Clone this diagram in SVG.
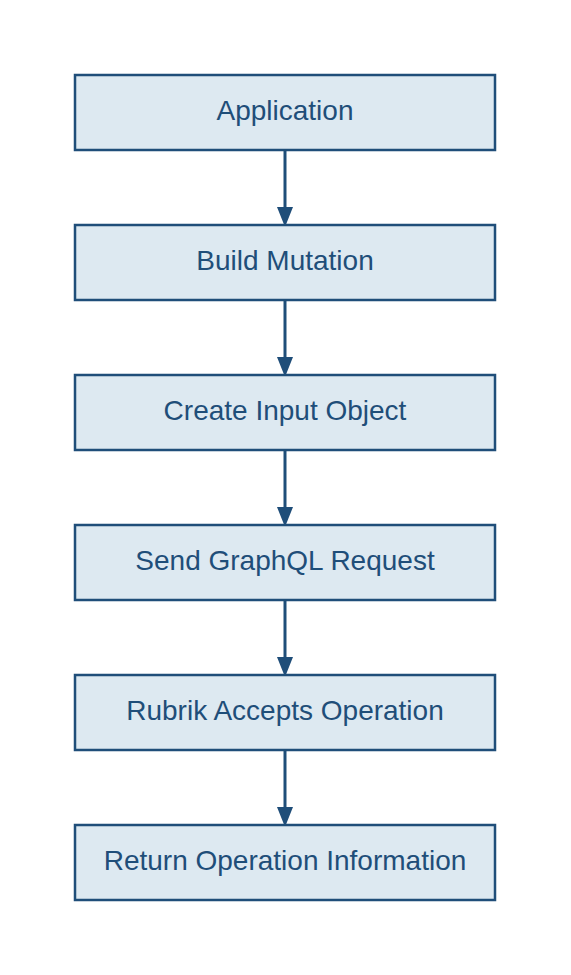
<svg xmlns="http://www.w3.org/2000/svg" width="571" height="975" viewBox="0 0 571 975">
<style>
.box{fill:#dde9f1;stroke:#1f4e79;stroke-width:2.5}
.lbl{font-family:"Liberation Sans",Arial,sans-serif;font-size:28px;fill:#1f4e79;text-anchor:middle;dominant-baseline:central}
.edge{stroke:#1f4e79;stroke-width:3;fill:none}
.head{fill:#1f4e79}
</style>
<rect width="571" height="975" fill="#ffffff"/>
<g id="connectors">
<path class="edge" d="M285,150 V207"/><path class="head" d="M277,207 L293,207 L285,227 Z"/>
<path class="edge" d="M285,300 V357"/><path class="head" d="M277,357 L293,357 L285,377 Z"/>
<path class="edge" d="M285,450 V507"/><path class="head" d="M277,507 L293,507 L285,527 Z"/>
<path class="edge" d="M285,600 V657"/><path class="head" d="M277,657 L293,657 L285,677 Z"/>
<path class="edge" d="M285,750 V807"/><path class="head" d="M277,807 L293,807 L285,827 Z"/>
</g>
<g id="n1"><rect class="box" x="75" y="75" width="420" height="75"/><text class="lbl" x="285" y="110">Application</text></g>
<g id="n2"><rect class="box" x="75" y="225" width="420" height="75"/><text class="lbl" x="285" y="260">Build Mutation</text></g>
<g id="n3"><rect class="box" x="75" y="375" width="420" height="75"/><text class="lbl" x="285" y="410">Create Input Object</text></g>
<g id="n4"><rect class="box" x="75" y="525" width="420" height="75"/><text class="lbl" x="285" y="560">Send GraphQL Request</text></g>
<g id="n5"><rect class="box" x="75" y="675" width="420" height="75"/><text class="lbl" x="285" y="710">Rubrik Accepts Operation</text></g>
<g id="n6"><rect class="box" x="75" y="825" width="420" height="75"/><text class="lbl" x="285" y="860">Return Operation Information</text></g>
</svg>
